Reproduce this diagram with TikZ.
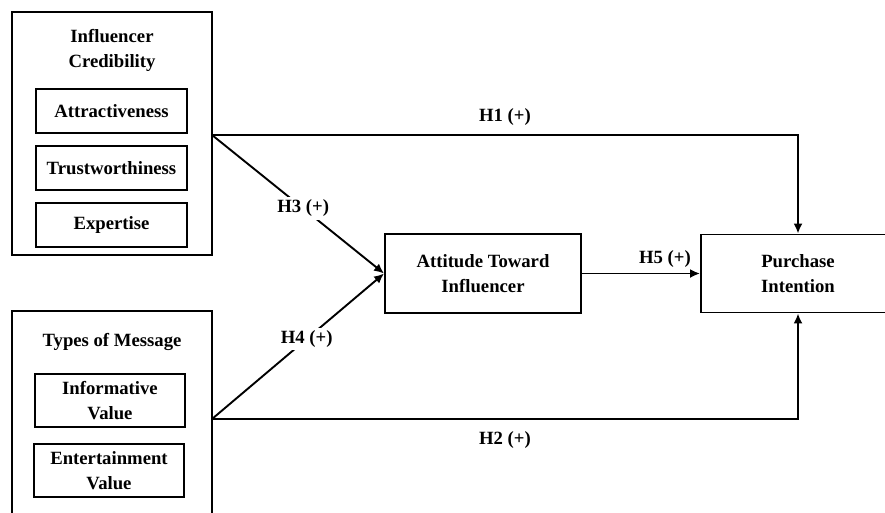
\documentclass[tikz,border=0pt]{standalone}
\usepackage{fontspec}
\setmainfont{Liberation Serif}
\usetikzlibrary{arrows.meta}
\tikzset{
  box/.style={draw, line width=1.9pt, inner sep=0pt, align=center},
  txt/.style={inner sep=0pt, align=center},
  arr/.style={line width=1.9pt, -{Latex[length=10pt,width=9pt]}},
  lab/.style={fill=white, inner sep=3pt},
}
\begin{document}
\begin{tikzpicture}[x=1pt,y=-1pt,font=\fontsize{18.7}{24.5}\selectfont\bfseries]
\useasboundingbox (0,0) rectangle (885,512);
% group boxes
\node[box, minimum width=200pt, minimum height=243pt] (cred) at (112,133.5) {};
\node[txt] (credt) at (112,50.5) {Influencer\\Credibility};
\node[box, minimum width=151pt, minimum height=44pt] (attr) at (111.5,111) {Attractiveness};
\node[box, minimum width=151pt, minimum height=44pt] (trust) at (111.5,168) {Trustworthiness};
\node[box, minimum width=151pt, minimum height=44pt] (exp) at (111.5,225) {Expertise};

\node[box, minimum width=200pt, minimum height=230pt] (msg) at (112,426) {};
\node[txt] (msgt) at (112,342) {Types of Message};
\node[box, minimum width=150pt, minimum height=53pt] (info) at (110,400.5) {Informative\\Value};
\node[box, minimum width=150pt, minimum height=53pt] (ent) at (109,470.5) {Entertainment\\Value};

\node[box, minimum width=196pt, minimum height=79pt] (att) at (483,273.5) {Attitude Toward\\Influencer};
\node[box, minimum width=194pt, minimum height=78pt] (pi) at (798,273.5) {Purchase\\Intention};

\coordinate (c1) at (212,135);
\coordinate (c2) at (212,419);

\draw[arr] (c1) -| (pi.north);
\draw[arr] (c2) -| (pi.south);
\draw[arr] (c1) -- node[lab, pos=0.53] (h3) {H3 (+)} (att.west);
\draw[arr] (c2) -- node[lab, pos=0.55] (h4) {H4 (+)} (att.west);
\draw[arr] (att.east) -- (pi.west);

\node[txt] (h1) at (505,117) {H1 (+)};
\node[txt] (h2) at (505,440) {H2 (+)};
\node[txt] (h5) at (665,259) {H5 (+)};
\end{tikzpicture}
\end{document}
